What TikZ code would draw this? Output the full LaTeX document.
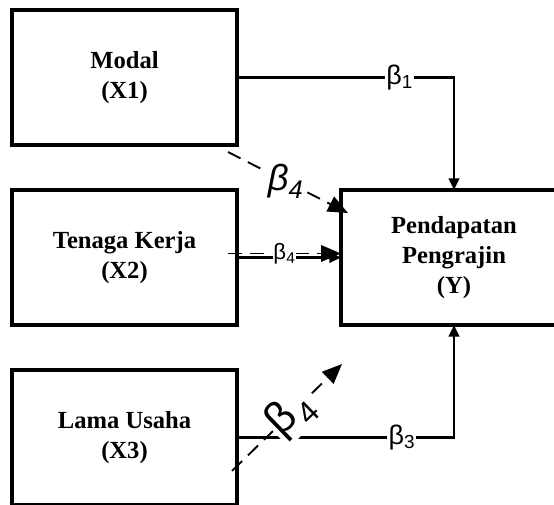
\documentclass[tikz,border=0pt]{standalone}
\usepackage{fontspec}
\setmainfont{Liberation Serif}
\newfontfamily\coeffont{Liberation Sans}
\usetikzlibrary{arrows.meta,positioning}
\tikzset{
  varbox/.style={
    rectangle, draw=black, line width=3pt, outer sep=0pt,
    minimum width=6.75cm, minimum height=4.05cm,
    font=\fontsize{21}{25.5}\selectfont\bfseries, align=center
  },
  patharrow/.style={
    -{Triangle[length=10pt,width=9pt]}, line width=2pt
  },
  dasharrow/.style={
    -{Triangle[length=17pt,width=14pt]}, line width=1.6pt,
    dash pattern=on 12pt off 7pt
  },
  coef/.style={
    font=\coeffont\fontsize{#1}{#1}\selectfont, fill=white, inner sep=1pt
  },
  coef/.default=23pt,
}
\begin{document}
\begin{tikzpicture}
  \useasboundingbox (0,0) rectangle (16.62,-15.15);
  % variables
  \node[varbox] (x1) at (3.735,-2.325) {Modal\\(X1)};
  \node[varbox, below=1.35cm of x1] (x2) {Tenaga Kerja\\(X2)};
  \node[varbox, below=1.35cm of x2] (x3) {Lama Usaha\\(X3)};
  \node[varbox, right=3.12cm of x2, minimum width=6.78cm] (y) {Pendapatan\\Pengrajin\\(Y)};
  % partial paths
  \draw[patharrow] (x1) -| node[coef, pos=0.375] {β\textsubscript{1}} (y);
  \draw[patharrow] (x3) -| node[coef, pos=0.38] {β\textsubscript{3}} (y);
  \draw[patharrow] (x2) -- (y);
  % simultaneous paths
  \draw[dasharrow] ([shift={(-0.27,0.12)}]x2.east) -- node[coef=19pt, inner sep=0pt] {β\textsubscript{4}} ([yshift=0.12cm]y.west);
  \draw[dasharrow] ([shift={(-0.27,-0.21)}]x1.south east) -- node[coef=31pt, pos=0.48] {\itshape β\textsubscript{4}} ([shift={(0.21,-0.69)}]y.north west);
  \draw[dasharrow] ([shift={(-0.15,-1.0)}]x3.east) -- node[coef=38pt, sloped, pos=0.53] {β\kern2pt\textsubscript{4}} ([shift={(0.03,-1.17)}]y.south west);
\end{tikzpicture}
\end{document}
